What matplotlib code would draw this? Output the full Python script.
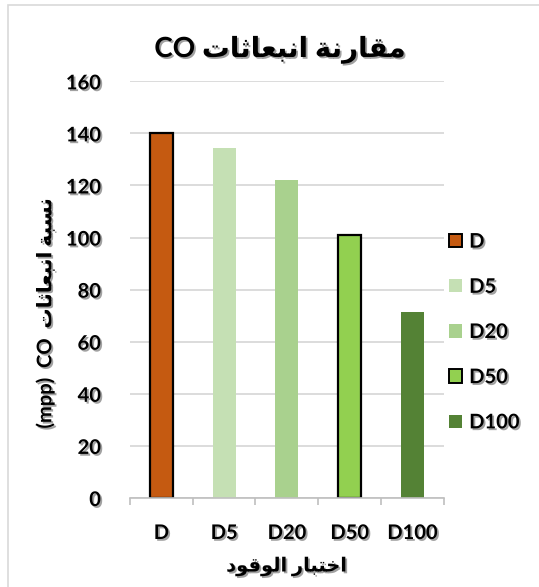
import matplotlib
matplotlib.use('Agg')
import matplotlib.pyplot as plt
import matplotlib.patheffects as pe
from matplotlib.patches import Rectangle, Patch

# fuel blends and CO readings (ppm)
fuels = ['D', 'D5', 'D20', 'D50', 'D100']
co_values = [140, 134.5, 122, 100.8, 71.5]
colors = ['#C55A11', '#C5E0B4', '#A9D18E', '#92D050', '#548235']
outlined = [True, False, False, True, False]

title_ar = 'مقارنة انبعاثات'
ylabel_ar = 'نسبة انبعاثات'
xlabel_ar = 'اختبار الوقود'

# Arabic presentation forms: (isolated, final, initial, medial)
FORMS = {
    'ا': (0xFE8D, 0xFE8E, None, None),
    'ب': (0xFE8F, 0xFE90, 0xFE91, 0xFE92),
    'ة': (0xFE93, 0xFE94, None, None),
    'ت': (0xFE95, 0xFE96, 0xFE97, 0xFE98),
    'ث': (0xFE99, 0xFE9A, 0xFE9B, 0xFE9C),
    'خ': (0xFEA5, 0xFEA6, 0xFEA7, 0xFEA8),
    'د': (0xFEA9, 0xFEAA, None, None),
    'ر': (0xFEAD, 0xFEAE, None, None),
    'س': (0xFEB1, 0xFEB2, 0xFEB3, 0xFEB4),
    'ع': (0xFEC9, 0xFECA, 0xFECB, 0xFECC),
    'ق': (0xFED5, 0xFED6, 0xFED7, 0xFED8),
    'ل': (0xFEDD, 0xFEDE, 0xFEDF, 0xFEE0),
    'م': (0xFEE1, 0xFEE2, 0xFEE3, 0xFEE4),
    'ن': (0xFEE5, 0xFEE6, 0xFEE7, 0xFEE8),
    'و': (0xFEED, 0xFEEE, None, None),
}


def ar(text):
    # shape letters by joining context, then reverse for left-to-right drawing
    out = []
    for i, ch in enumerate(text):
        if ch not in FORMS:
            out.append(ch)
            continue
        prev = text[i - 1] if i > 0 else ''
        nxt = text[i + 1] if i + 1 < len(text) else ''
        join_prev = prev in FORMS and FORMS[prev][2] is not None
        join_next = nxt in FORMS and FORMS[ch][2] is not None
        iso, fin, ini, med = FORMS[ch]
        if join_prev and join_next:
            code = med
        elif join_prev:
            code = fin
        elif join_next:
            code = ini
        else:
            code = iso
        out.append(chr(code))
    return ''.join(reversed(out))


plt.rcParams['font.family'] = ['Lato', 'DejaVu Sans']
plt.rcParams['font.weight'] = 'bold'

shadow = [pe.SimplePatchShadow(offset=(1.3, -1.3), shadow_rgbFace='#555555', alpha=0.55), pe.Normal()]

fig = plt.figure(figsize=(5.39, 5.87), dpi=100)
fig.patches.append(Rectangle((8 / 539, -0.1), 1.2, (582 / 587) + 0.1, transform=fig.transFigure,
                             fill=False, edgecolor='#D9D9D9', linewidth=1.2))

ax = fig.add_axes([130 / 539, 89 / 587, 313.7 / 539, 416.7 / 587])
x = range(len(fuels))
for i in x:
    ax.bar(i, co_values[i], width=0.37, color=colors[i],
           edgecolor='black' if outlined[i] else 'none',
           linewidth=1.6 if outlined[i] else 0, zorder=3)

ax.set_xlim(-0.5, len(fuels) - 0.5)
ax.set_ylim(0, 160)
ax.set_yticks(range(0, 161, 20))
ax.yaxis.grid(True, color='#D9D9D9', linewidth=1.3, zorder=0)
for s in ['left', 'top', 'right']:
    ax.spines[s].set_visible(False)
ax.spines['bottom'].set_color('#BFBFBF')
ax.spines['bottom'].set_linewidth(1.2)
ax.spines['bottom'].set_zorder(4)

ax.set_xticks(list(x))
ax.set_xticklabels(fuels)
ax.set_xticks([i - 0.5 for i in range(len(fuels) + 1)], minor=True)
ax.tick_params(axis='x', which='major', length=0, pad=18, labelsize=14.5)
ax.tick_params(axis='x', which='minor', length=5, color='#BFBFBF', width=1.2)
ax.tick_params(axis='y', length=0, pad=21, labelsize=14.5)
for lab in ax.get_xticklabels() + ax.get_yticklabels():
    lab.set_path_effects(shadow)

fig.text(280 / 539, 1 - 50 / 587, 'CO ' + ar(title_ar), ha='center', va='center',
         fontsize=20, path_effects=shadow)
fig.text(287 / 539, 1 - 567 / 587, ar(xlabel_ar), ha='center', va='center',
         fontsize=14, path_effects=shadow)
fig.text(45 / 539, 1 - 313 / 587, '(mpp)  CO  ' + ar(ylabel_ar), ha='center', va='center',
         rotation=90, fontsize=14.5, path_effects=shadow)

handles = [Patch(facecolor=c, edgecolor='black' if o else 'none', linewidth=1.4 if o else 0)
           for c, o in zip(colors, outlined)]
leg = fig.legend(handles, fuels, loc='center left', bbox_to_anchor=(449 / 539, 1 - 332 / 587),
                 frameon=False, fontsize=14.5, handlelength=0.65, handleheight=0.65,
                 handletextpad=0.35, labelspacing=1.25, borderpad=0, borderaxespad=0)
for t in leg.get_texts():
    t.set_path_effects(shadow)

fig.savefig('out.png', dpi=100)
